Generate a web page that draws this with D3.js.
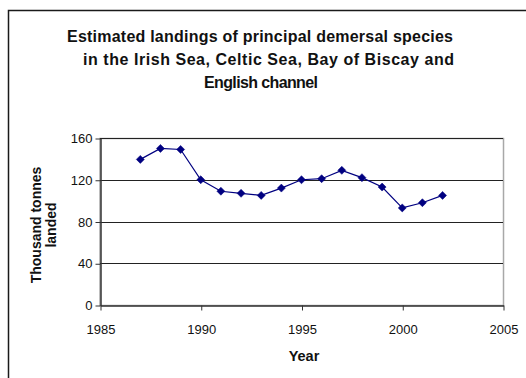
<!DOCTYPE html>
<html>
<head>
<meta charset="utf-8">
<script src="https://cdn.jsdelivr.net/npm/d3@7"></script>
<style>
  html, body { margin: 0; padding: 0; background: #fff; }
  svg { display: block; font-family: Arial, "Liberation Sans", sans-serif; }
</style>
</head>
<body>
<svg id="chart" width="526" height="378"></svg>
<script>
// Estimated landings (thousand tonnes) by year
const years = [1987, 1988, 1989, 1990, 1991, 1992, 1993, 1994, 1995, 1996, 1997, 1998, 1999, 2000, 2001, 2002];
const landings = [139.5, 150, 149, 120, 109, 107, 105, 112, 120, 121, 129, 122, 113, 93, 98, 105];
const xTicks = [1985, 1990, 1995, 2000, 2005];
const yTicks = [0, 40, 80, 120, 160];
const titleLines = ["Estimated landings of principal demersal species",
                    "in the Irish Sea, Celtic Sea, Bay of Biscay and",
                    "English channel"];
const yTitleLines = ["Thousand tonnes", "landed"];
const xTitle = "Year";

const svg = d3.select("#chart");
const W = 526, H = 378;
const ink = "#111";

// outer chart frame
svg.append("rect")
  .attr("x", 8.5).attr("y", 10.5)
  .attr("width", W).attr("height", H)
  .attr("fill", "#fff").attr("stroke", "#1a1a1a").attr("stroke-width", 1.5);

const plot = { left: 100, right: 503, top: 138, bottom: 305 };

const x = d3.scaleLinear().domain([1985, 2005]).range([plot.left, plot.right]);
const y = d3.scaleLinear().domain([0, 160]).range([plot.bottom, plot.top]);

// plot area border
svg.append("rect")
  .attr("x", plot.left).attr("y", plot.top + 0.5)
  .attr("width", plot.right - plot.left + 0.5).attr("height", plot.bottom - plot.top)
  .attr("fill", "none").attr("stroke", "#a8a8a8").attr("stroke-width", 1.5);

// horizontal gridlines
svg.append("g")
  .selectAll("line")
  .data(yTicks.filter(d => d > 0))
  .join("line")
  .attr("x1", plot.left).attr("x2", plot.right)
  .attr("y1", d => Math.round(y(d)) + 0.5).attr("y2", d => Math.round(y(d)) + 0.5)
  .attr("stroke", "#222").attr("stroke-width", 1.2);

// y axis
const yAxis = svg.append("g")
  .attr("transform", `translate(${plot.left + 0.5},0.5)`)
  .call(d3.axisLeft(y).tickValues(yTicks).tickSize(5).tickPadding(3).tickSizeOuter(0));
yAxis.select(".domain").attr("stroke", "#333").attr("stroke-width", 1.5);
yAxis.selectAll(".tick line").attr("stroke", "#333");
yAxis.selectAll(".tick text")
  .attr("font-size", 13).attr("fill", ink)
  .attr("font-family", "Arial, 'Liberation Sans', sans-serif");

// x axis
const xAxis = svg.append("g")
  .attr("transform", `translate(0.5,${plot.bottom + 0.5})`)
  .call(d3.axisBottom(x).tickValues(xTicks).tickFormat(d3.format("d")).tickSize(5).tickPadding(14).tickSizeOuter(0));
xAxis.select(".domain").attr("stroke", "#333").attr("stroke-width", 1.5);
xAxis.selectAll(".tick line").attr("stroke", "#333");
xAxis.selectAll(".tick text")
  .attr("font-size", 13).attr("fill", ink)
  .attr("font-family", "Arial, 'Liberation Sans', sans-serif");

// data series
const navy = "#000080";
const pts = years.map((yr, i) => [yr, landings[i]]);
svg.append("path")
  .datum(pts)
  .attr("fill", "none").attr("stroke", navy).attr("stroke-width", 1.2)
  .attr("d", d3.line().x(d => x(d[0])).y(d => y(d[1])));

svg.append("g")
  .selectAll("path")
  .data(pts)
  .join("path")
  .attr("transform", d => `translate(${x(d[0])},${y(d[1])}) rotate(45)`)
  .attr("d", d3.symbol().type(d3.symbolSquare).size(32))
  .attr("fill", navy).attr("stroke", navy).attr("stroke-width", 0.5);

// title, three lines
const titleLayout = [
  { x: 67, len: 386 },
  { x: 83, len: 371 },
  { x: 204, len: 114 }
];
svg.append("g")
  .selectAll("text")
  .data(titleLines)
  .join("text")
  .attr("x", (d, i) => titleLayout[i].x)
  .attr("y", (d, i) => 42 + i * 23)
  .attr("textLength", (d, i) => titleLayout[i].len)
  .attr("lengthAdjust", "spacing")
  .attr("font-size", 16).attr("font-weight", "bold").attr("fill", ink)
  .text(d => d);

// y axis title, two rotated lines
svg.append("g")
  .selectAll("text")
  .data(yTitleLines)
  .join("text")
  .attr("transform", (d, i) => `translate(${41 + i * 15},225) rotate(-90)`)
  .attr("text-anchor", "middle")
  .attr("font-size", 14).attr("font-weight", "bold").attr("fill", ink)
  .text(d => d);

// x axis title
svg.append("text")
  .attr("x", 304).attr("y", 361)
  .attr("text-anchor", "middle")
  .attr("font-size", 14.5).attr("font-weight", "bold").attr("fill", ink)
  .text(xTitle);
</script>
</body>
</html>
